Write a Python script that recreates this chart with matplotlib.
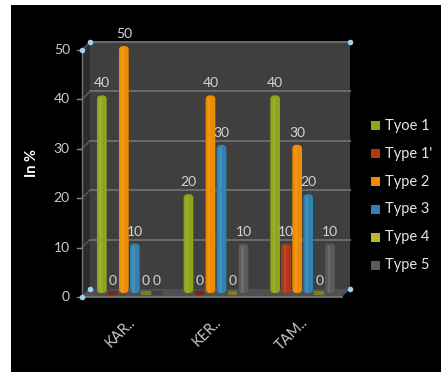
import matplotlib
matplotlib.use("Agg")
import matplotlib.pyplot as plt
from matplotlib.patches import Rectangle, Polygon, FancyBboxPatch, BoxStyle

plt.rcParams['font.family'] = ['Lato', 'DejaVu Sans']

categories = ["KAR..", "KER..", "TAM.."]
series_names = ["Tyoe 1", "Type 1'", "Type 2", "Type 3", "Type 4", "Type 5"]
series_colors = ["#8fa61c", "#b03a17", "#ef8b00", "#2f83b3", "#b8b92a", "#5b5b5b"]
stub_colors = ["#6a7a14", "#7a2a12", "#a86200", "#215d80", "#7d7e1c", "#404040"]
values = [
    [40, 20, 40],   # Tyoe 1
    [0, 0, 10],     # Type 1'
    [50, 40, 30],   # Type 2
    [10, 30, 20],   # Type 3
    [0, 0, 0],      # Type 4
    [0, 10, 10],    # Type 5
]
y_ticks = [0, 10, 20, 30, 40, 50]
y_label = "In %"

W, H = 441, 374
fig = plt.figure(figsize=(W / 100, H / 100), dpi=100)
fig.patch.set_facecolor("white")
fig.patches.append(Rectangle((11 / W, 2 / H), (W - 11) / W, (372 - 5) / H,
                             transform=fig.transFigure, facecolor="black",
                             edgecolor="none", zorder=-10))

# axes = the plane in which the bars stand (middle of the 3-D depth)
ax = fig.add_axes([86 / W, (H - 293) / H, 260 / W, 247 / H])
ax.set_xlim(-0.5, 2.5)
ax.set_ylim(0, 50)
ax.axis("off")
ax.patch.set_alpha(0)

px_x = 260 / 3.0          # pixels per x unit
px_y = 247 / 50.0         # pixels per y unit
ox, oy = 4 / px_x, 4 / px_y   # half-depth offset in data units
x0, x1 = -0.5, 2.5

# back wall
ax.add_patch(Rectangle((x0 + ox, oy), x1 - x0, 50, facecolor="#3f3f3f",
                       edgecolor="none", clip_on=False, zorder=0))
# left side wall
ax.add_patch(Polygon([(x0 - ox, -oy), (x0 + ox, oy), (x0 + ox, 50 + oy), (x0 - ox, 50 - oy)],
                     closed=True, facecolor="#2c2c2c", edgecolor="none", clip_on=False, zorder=0))
# floor
ax.add_patch(Polygon([(x0 - ox, -oy), (x1 - ox, -oy), (x1 + ox, oy), (x0 + ox, oy)],
                     closed=True, facecolor="#505050", edgecolor="none", clip_on=False, zorder=0.5))
ax.plot([x0 - ox, x1 - ox], [-oy, -oy], color="#7a7a7a", lw=1.2, clip_on=False, zorder=0.6)

# gridlines on the back wall and side wall, ticks and labels on the front axis
for v in y_ticks:
    if v > 0:
        ax.plot([x0 + ox, x1 + ox], [v + oy, v + oy], color="#6c6c6c", lw=1.4,
                clip_on=False, zorder=0.3)
    ax.plot([x0 - ox, x0 + ox], [v - oy, v + oy], color="#5c5c5c", lw=1.0,
            clip_on=False, zorder=0.3)
    ax.plot([x0 - ox - 0.06, x0 - ox], [v - oy, v - oy], color="#8a8a8a", lw=1.0,
            clip_on=False, zorder=0.4)
    ax.text(x0 - ox - 0.14, v - oy, str(v), ha="right", va="center",
            color="#cccccc", fontsize=10)
ax.plot([x0 - ox, x0 - ox], [-oy, 50 - oy], color="#707070", lw=1.0, clip_on=False, zorder=0.4)

# bars
n = len(series_names)
step = 0.127
bw = 0.112
for j, (name, col) in enumerate(zip(series_names, series_colors)):
    xs = [i + (j - (n - 1) / 2) * step for i in range(len(categories))]
    bars = ax.bar(xs, values[j], width=bw, color=col, zorder=2)
    for rect, v in zip(bars, values[j]):
        rect.set_visible(False)
        bx, by = rect.get_x(), rect.get_y()
        bwid, bh = rect.get_width(), rect.get_height()
        cx = bx + bwid / 2
        if bh > 0:
            rsz = bwid * 0.42
            ax.add_patch(FancyBboxPatch((bx, by), bwid, bh,
                                        boxstyle=BoxStyle("Round", pad=0, rounding_size=rsz),
                                        mutation_aspect=px_x / px_y,
                                        facecolor=col, edgecolor="none", zorder=2))
            # soft highlight along the cylinder
            ax.add_patch(Rectangle((bx + bwid * 0.25, by), bwid * 0.25, bh - rsz * px_x / px_y * 0.6,
                                   facecolor="white", alpha=0.10, edgecolor="none", zorder=2.1))
        else:
            ax.plot([bx, bx + bwid], [v, v], color=stub_colors[j], lw=3,
                    solid_capstyle="butt", clip_on=False, zorder=2)
        ax.annotate(str(v), (cx, v), xytext=(0, 8.6), textcoords="offset points",
                    ha="center", va="center", color="#d4d4d4", fontsize=10,
                    annotation_clip=False, zorder=3)

# category labels
for i, lab in enumerate(categories):
    ax.text(i + 0.04, -5.5, lab, rotation=45, rotation_mode="anchor",
            ha="right", va="center", color="#c8c8c8", fontsize=10.5)

# selection handles at the plot-area corners
hx = [x0 - ox, x0 + ox, x1 + ox, x0 - ox, x0 + ox, x1 + ox]
hy = [50 - oy, 50 + oy, 50 + oy, -oy, oy, oy]
ax.plot(hx, hy, "o", color="#9fd3ef", markersize=4, markeredgewidth=0,
        clip_on=False, zorder=5)

fig.text(32 / W, 1 - 163 / H, y_label, rotation=90, ha="center", va="center",
         color="white", fontsize=10.5, fontweight="bold")

# legend
row_y = 126
for name, col in zip(series_names, series_colors):
    fig.patches.append(Rectangle((371 / W, 1 - (row_y + 4.5) / H), 9 / W, 9 / H,
                                 transform=fig.transFigure, facecolor=col, edgecolor="none"))
    fig.text(385 / W, 1 - row_y / H, name, ha="left", va="center",
             color="#e6e6e6", fontsize=10.5)
    row_y += 27.8

fig.savefig("out.png", dpi=100, facecolor=fig.get_facecolor())
